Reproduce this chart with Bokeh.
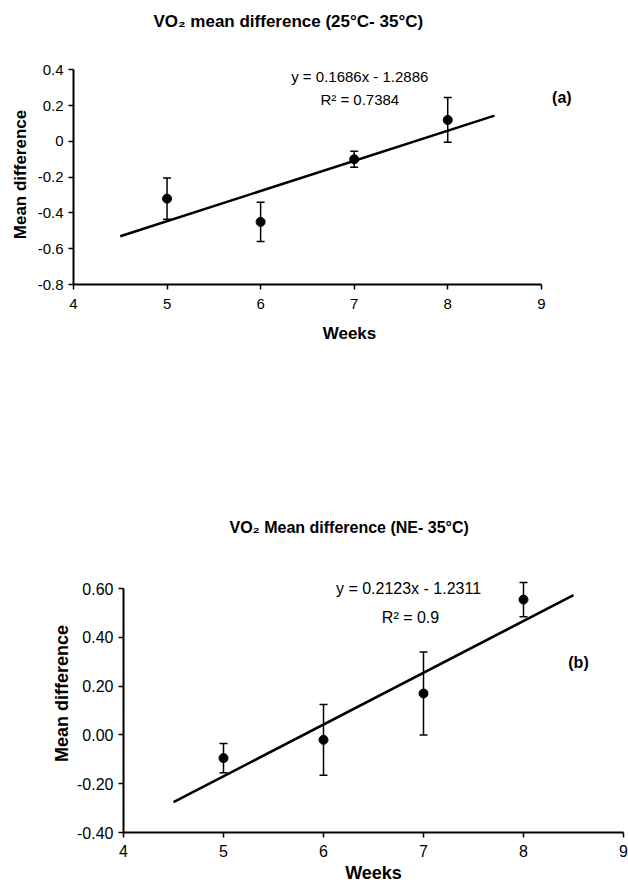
from bokeh.plotting import figure
from bokeh.layouts import column
from bokeh.models import ColumnDataSource, Whisker, Label, Range1d, FixedTicker, TeeHead, Title
from bokeh.embed import file_html
from bokeh.resources import INLINE

# ---------------- data ----------------
weeks = [5, 6, 7, 8]

# panel (a): VO2 mean difference (25°C- 35°C)
a_title = "VO\u2082 mean difference (25\u00b0C- 35\u00b0C)"
a_mean = [-0.32, -0.45, -0.10, 0.12]
a_err = [0.115, 0.11, 0.045, 0.125]
a_slope = 0.1686
a_intercept = -1.2886
a_eq = "y = 0.1686x - 1.2886"
a_r2 = "R\u00b2 = 0.7384"

# panel (b): VO2 Mean difference (NE- 35°C)
b_title = "VO\u2082 Mean difference (NE- 35\u00b0C)"
b_mean = [-0.095, -0.02, 0.17, 0.555]
b_err = [0.06, 0.145, 0.17, 0.07]
b_slope = 0.2123
b_intercept = -1.2311
b_eq = "y = 0.2123x - 1.2311"
b_r2 = "R\u00b2 = 0.9"

fit_x = [4.5, 8.5]

x_ticks = [4, 5, 6, 7, 8, 9]
a_y_ticks = [-0.8, -0.6, -0.4, -0.2, 0, 0.2, 0.4]
a_y_labels = ["-0.8", "-0.6", "-0.4", "-0.2", "0", "0.2", "0.4"]
b_y_ticks = [-0.4, -0.2, 0, 0.2, 0.4, 0.6]
b_y_labels = ["-0.40", "-0.20", "0.00", "0.20", "0.40", "0.60"]

FONT = "Liberation Sans"


def panel(title, mean, err, slope, intercept, eq, r2, tag,
          xr, yr, ybounds, yticks, ylabels, frame, borders,
          title_offset, title_fs, spacer, eq_pos, r2_pos, tag_pos,
          fs, eqfs, labfs, xtick_standoff, xlab_standoff, ylab_standoff):
    left, right, top, bottom = borders
    p = figure(frame_width=frame[0], frame_height=frame[1],
               x_range=Range1d(*xr), y_range=Range1d(*yr),
               output_backend="svg", toolbar_location=None,
               min_border_left=left, min_border_right=right,
               min_border_top=top, min_border_bottom=bottom)
    try:
        p.frame_align = False
    except Exception:
        pass
    p.title = None
    p.outline_line_color = None
    p.background_fill_color = "white"
    p.border_fill_color = "white"
    p.xgrid.grid_line_color = None
    p.ygrid.grid_line_color = None

    if spacer:
        p.add_layout(Title(text=" ", text_font_size=spacer, text_font=FONT), "above")
    p.add_layout(Title(text=title, align="left", offset=title_offset,
                       text_font=FONT, text_font_size=title_fs,
                       text_font_style="bold", text_color="black"), "above")

    src = ColumnDataSource(dict(
        weeks=weeks, mean=mean,
        upper=[m + e for m, e in zip(mean, err)],
        lower=[m - e for m, e in zip(mean, err)],
    ))

    p.line(fit_x, [slope * x + intercept for x in fit_x],
           line_color="black", line_width=2.5)

    w = Whisker(base="weeks", upper="upper", lower="lower", source=src,
                line_color="black", line_width=1.5,
                upper_head=TeeHead(size=8, line_width=1.5, line_color="black"),
                lower_head=TeeHead(size=8, line_width=1.5, line_color="black"))
    p.add_layout(w)

    p.scatter(x="weeks", y="mean", source=src, size=9,
              fill_color="black", line_color="black")

    for txt, pos, bold, size in ((eq, eq_pos, False, eqfs),
                                 (r2, r2_pos, False, eqfs),
                                 (tag, tag_pos, True, "16px")):
        p.add_layout(Label(x=pos[0], y=pos[1], text=txt,
                           text_font=FONT, text_font_size=size,
                           text_font_style="bold" if bold else "normal",
                           text_align="center", text_baseline="middle",
                           text_color="black"))

    for ax in (p.xaxis[0], p.yaxis[0]):
        ax.axis_line_width = 2
        ax.axis_line_color = "black"
        ax.major_tick_line_width = 1.5
        ax.major_tick_line_color = "black"
        ax.major_tick_out = 5
        ax.major_tick_in = 0
        ax.minor_tick_line_color = None
        ax.major_label_text_font = FONT
        ax.major_label_text_font_size = fs
        ax.major_label_text_color = "black"
        ax.axis_label_text_font = FONT
        ax.axis_label_text_font_size = labfs
        ax.axis_label_text_font_style = "bold"
        ax.axis_label_text_color = "black"

    p.xaxis.ticker = FixedTicker(ticks=x_ticks)
    p.xaxis.bounds = (x_ticks[0], x_ticks[-1])
    p.xaxis.axis_label = "Weeks"
    p.xaxis.major_label_standoff = xtick_standoff
    p.xaxis.axis_label_standoff = xlab_standoff

    p.yaxis.ticker = FixedTicker(ticks=yticks)
    p.yaxis.bounds = ybounds
    p.yaxis.major_label_overrides = {t: l for t, l in zip(yticks, ylabels)}
    p.yaxis.axis_label = "Mean difference"
    p.yaxis.major_label_standoff = 5
    p.yaxis.axis_label_standoff = ylab_standoff
    return p


p1 = panel(a_title, a_mean, a_err, a_slope, a_intercept, a_eq, a_r2, "(a)",
           (4, 9.9), (-0.8, 0.43), (-0.8, 0.4), a_y_ticks, a_y_labels,
           (552, 220), (73, 3, 64, 156),
           80, "17px", "16px", (7.06, 0.363), (7.06, 0.234), (9.22, 0.245),
           "15px", "15px", "17px", 9, 12, 5)

p2 = panel(b_title, b_mean, b_err, b_slope, b_intercept, b_eq, b_r2, "(b)",
           (4, 9), (-0.4, 0.74), (-0.4, 0.6), b_y_ticks, b_y_labels,
           (500, 278), (123, 5, 114, 56),
           106, "16px", "2px", (6.85, 0.60), (6.87, 0.48), (8.55, 0.297),
           "16px", "16px", "18px", 7, 3, 2)

layout = column(p1, p2, spacing=0)
open("out.html", "w").write(file_html(layout, INLINE))
